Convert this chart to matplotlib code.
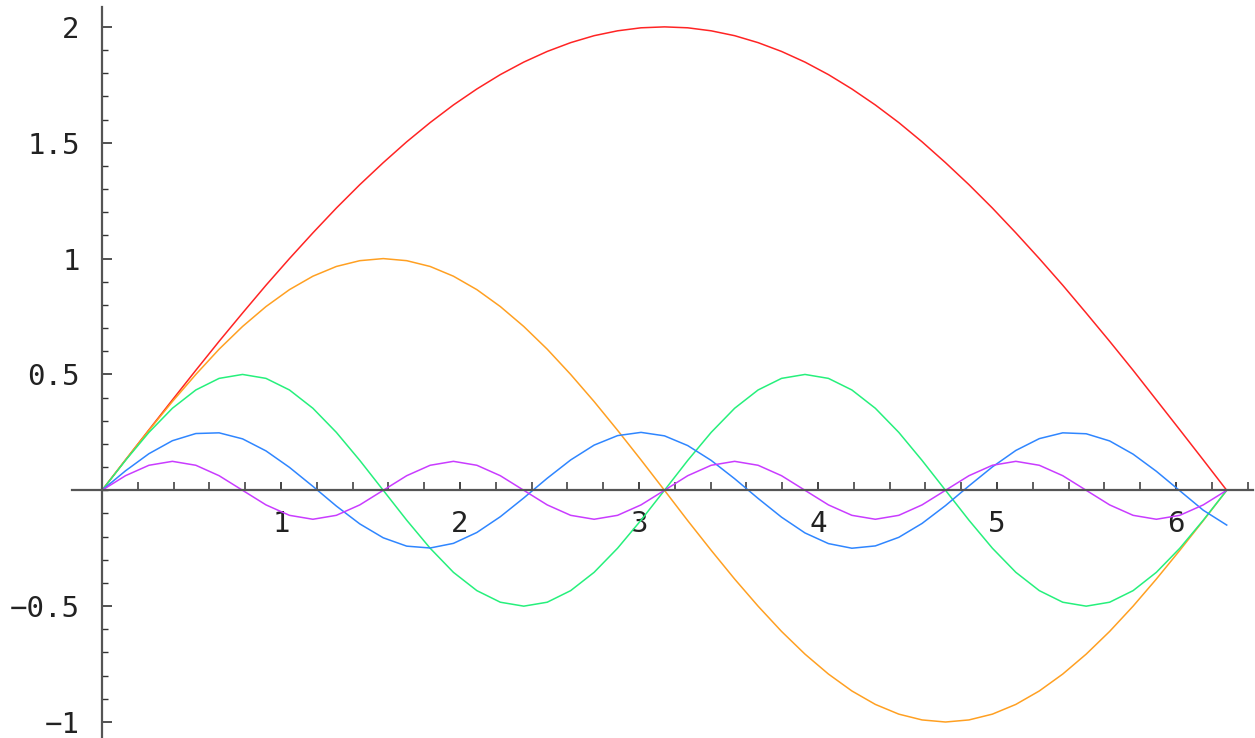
import numpy as np
import matplotlib.pyplot as plt

# sample positions (step pi/24 from 0 to 2*pi)
x_vals = [0.000, 0.131, 0.262, 0.393, 0.524, 0.654, 0.785, 0.916, 1.047, 1.178,
          1.309, 1.440, 1.571, 1.702, 1.833, 1.963, 2.094, 2.225, 2.356, 2.487,
          2.618, 2.749, 2.880, 3.011, 3.142, 3.272, 3.403, 3.534, 3.665, 3.796,
          3.927, 4.058, 4.189, 4.320, 4.451, 4.581, 4.712, 4.843, 4.974, 5.105,
          5.236, 5.367, 5.498, 5.629, 5.760, 5.890, 6.021, 6.152, 6.283]

red_vals = [0.000, 0.131, 0.261, 0.390, 0.518, 0.643, 0.765, 0.885, 1.000, 1.111,
            1.218, 1.319, 1.414, 1.504, 1.587, 1.663, 1.732, 1.794, 1.848, 1.894,
            1.932, 1.962, 1.983, 1.996, 2.000, 1.996, 1.983, 1.962, 1.932, 1.894,
            1.848, 1.794, 1.732, 1.663, 1.587, 1.504, 1.414, 1.319, 1.218, 1.111,
            1.000, 0.885, 0.765, 0.643, 0.518, 0.390, 0.261, 0.131, 0.000]

orange_vals = [0.000, 0.131, 0.259, 0.383, 0.500, 0.609, 0.707, 0.793, 0.866, 0.924,
               0.966, 0.991, 1.000, 0.991, 0.966, 0.924, 0.866, 0.793, 0.707, 0.609,
               0.500, 0.383, 0.259, 0.131, 0.000, -0.131, -0.259, -0.383, -0.500, -0.609,
               -0.707, -0.793, -0.866, -0.924, -0.966, -0.991, -1.000, -0.991, -0.966, -0.924,
               -0.866, -0.793, -0.707, -0.609, -0.500, -0.383, -0.259, -0.131, 0.000]

green_vals = [0.000, 0.129, 0.250, 0.354, 0.433, 0.483, 0.500, 0.483, 0.433, 0.354,
              0.250, 0.129, 0.000, -0.129, -0.250, -0.354, -0.433, -0.483, -0.500, -0.483,
              -0.433, -0.354, -0.250, -0.129, 0.000, 0.129, 0.250, 0.354, 0.433, 0.483,
              0.500, 0.483, 0.433, 0.354, 0.250, 0.129, 0.000, -0.129, -0.250, -0.354,
              -0.433, -0.483, -0.500, -0.483, -0.433, -0.354, -0.250, -0.129, 0.000]

blue_vals = [0.000, 0.084, 0.158, 0.214, 0.245, 0.248, 0.222, 0.170, 0.099, 0.017,
             -0.068, -0.145, -0.205, -0.241, -0.249, -0.229, -0.182, -0.114, -0.033, 0.052,
             0.131, 0.195, 0.236, 0.250, 0.235, 0.193, 0.129, 0.050, -0.035, -0.116,
             -0.184, -0.230, -0.250, -0.240, -0.203, -0.143, -0.066, 0.019, 0.101, 0.172,
             0.223, 0.248, 0.244, 0.213, 0.156, 0.082, -0.002, -0.086, -0.150]

magenta_vals = [0.000, 0.063, 0.108, 0.125, 0.108, 0.063, 0.000, -0.063, -0.108, -0.125,
                -0.108, -0.063, 0.000, 0.063, 0.108, 0.125, 0.108, 0.063, 0.000, -0.063,
                -0.108, -0.125, -0.108, -0.063, 0.000, 0.063, 0.108, 0.125, 0.108, 0.063,
                0.000, -0.063, -0.108, -0.125, -0.108, -0.063, 0.000, 0.063, 0.108, 0.125,
                0.108, 0.063, 0.000, -0.063, -0.108, -0.125, -0.108, -0.063, 0.000]

series = [
    (red_vals, '#ff2424'),
    (orange_vals, '#ffa022'),
    (green_vals, '#26f07c'),
    (blue_vals, '#2f86ff'),
    (magenta_vals, '#c93cff'),
]

x_major = [1, 2, 3, 4, 5, 6]
y_major = [-1, -0.5, 0.5, 1, 1.5, 2]
y_labels = ['\u22121', '\u22120.5', '0.5', '1', '1.5', '2']

fig = plt.figure(figsize=(12.55, 7.38), dpi=100)
ax = fig.add_axes([0, 0, 1, 1])
ax.set_xlim(-0.570, 6.441)
ax.set_ylim(-1.069, 2.116)

for vals, col in series:
    ax.plot(x_vals, vals, color=col, lw=1.1, solid_joinstyle='miter')

axis_col = '#555555'
ax.spines['top'].set_visible(False)
ax.spines['right'].set_visible(False)
ax.spines['left'].set_position(('data', 0))
ax.spines['bottom'].set_position(('data', 0))
ax.spines['left'].set_bounds(-1.069, 2.086)
ax.spines['bottom'].set_bounds(-0.168, 6.43)
for s in ('left', 'bottom'):
    ax.spines[s].set_color(axis_col)
    ax.spines[s].set_linewidth(1.6)

ax.set_xticks(x_major)
ax.set_xticks(np.arange(0.2, 6.41, 0.2), minor=True)
ax.set_yticks(y_major)
ax.set_yticks(np.arange(-1.0, 2.01, 0.1), minor=True)
ax.set_yticklabels(y_labels)

font = dict(family='DejaVu Sans Mono', size=21)
ax.tick_params(axis='x', which='major', direction='in', length=6, width=1.3,
               color='#333333', pad=14, labelsize=21, labelcolor='#222222')
ax.tick_params(axis='x', which='minor', direction='in', length=6, width=1.1,
               color='#333333')
ax.tick_params(axis='y', which='major', direction='in', length=7, width=1.2,
               color='#333333', pad=16, labelsize=21, labelcolor='#222222')
ax.tick_params(axis='y', which='minor', direction='in', length=4, width=1.0,
               color='#333333')
for lab in ax.get_xticklabels() + ax.get_yticklabels():
    lab.set_family('DejaVu Sans Mono')

fig.savefig('out.png', dpi=100)
